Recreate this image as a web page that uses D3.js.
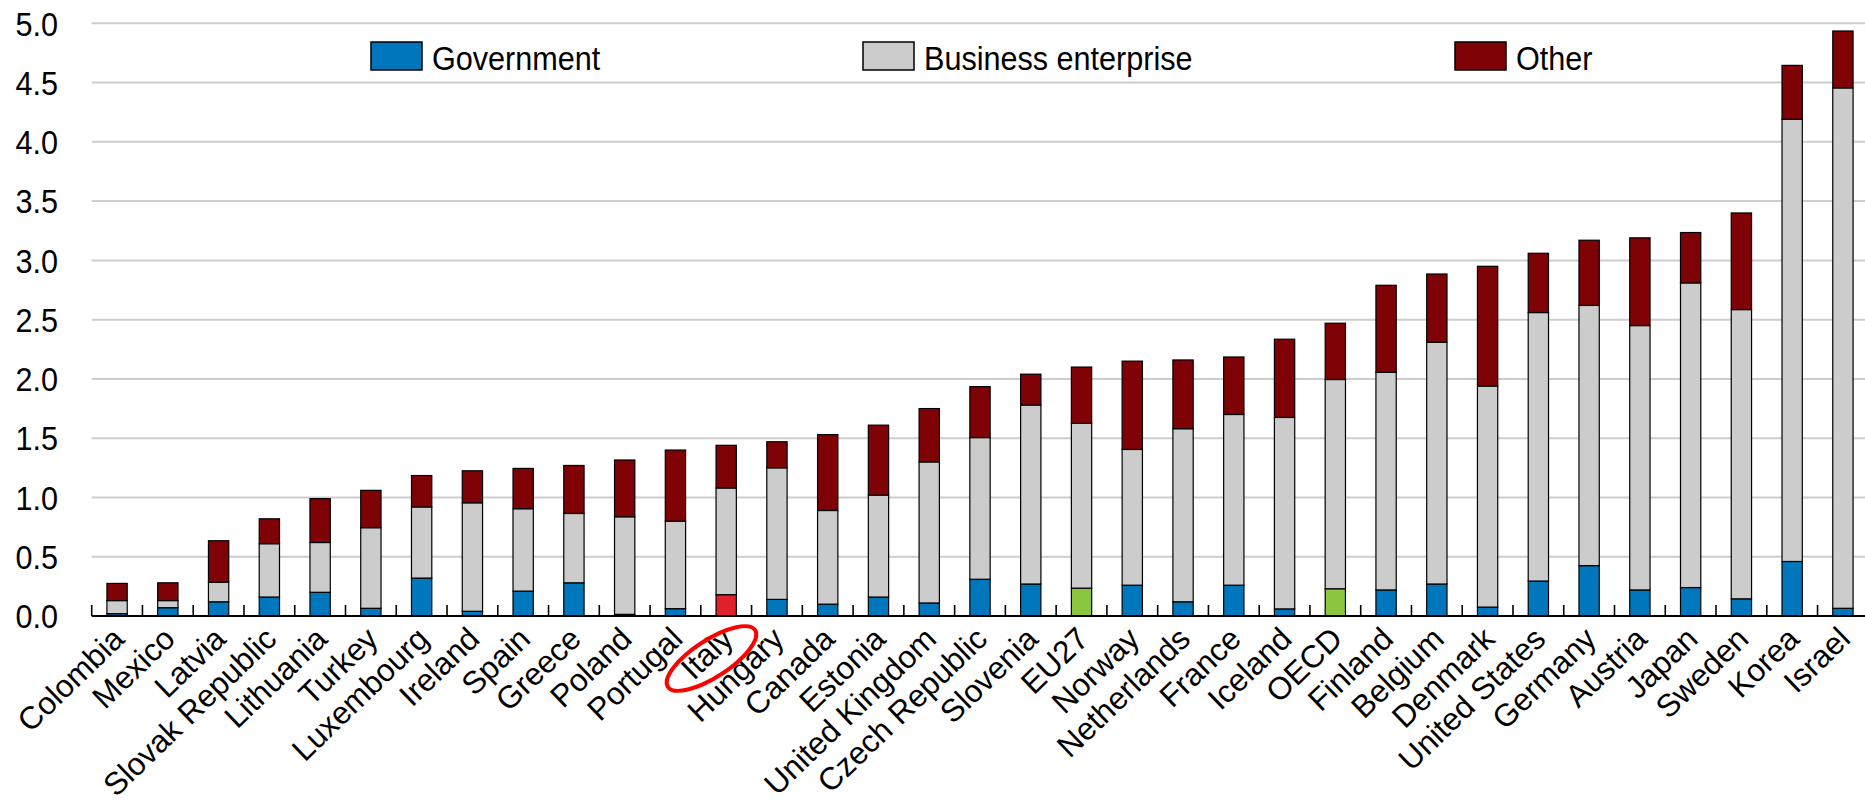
<!DOCTYPE html>
<html>
<head>
<meta charset="utf-8">
<script src="https://cdn.jsdelivr.net/npm/d3@7"></script>
<style>
  body { margin: 0; background: #fff; }
  text { font-family: "Liberation Sans", Arial, sans-serif; fill: #000; }
</style>
</head>
<body>
<div id="chart"></div>
<script>
// Data (% of GDP, stacked)
const countries = ["Colombia", "Mexico", "Latvia", "Slovak Republic", "Lithuania", "Turkey",
  "Luxembourg", "Ireland", "Spain", "Greece", "Poland", "Portugal", "Italy", "Hungary",
  "Canada", "Estonia", "United Kingdom", "Czech Republic", "Slovenia", "EU27", "Norway",
  "Netherlands", "France", "Iceland", "OECD", "Finland", "Belgium", "Denmark",
  "United States", "Germany", "Austria", "Japan", "Sweden", "Korea", "Israel"];

const government = [0.02, 0.07, 0.12, 0.16, 0.20, 0.065, 0.32, 0.04, 0.21, 0.28, 0.014, 0.062,
  0.18, 0.14, 0.10, 0.16, 0.11, 0.31, 0.27, 0.235, 0.26, 0.12, 0.26, 0.06, 0.23, 0.22, 0.27,
  0.075, 0.295, 0.425, 0.22, 0.24, 0.145, 0.46, 0.065];

const business = [0.11, 0.06, 0.165, 0.45, 0.42, 0.68, 0.60, 0.915, 0.695, 0.585, 0.823, 0.738,
  0.90, 1.11, 0.79, 0.86, 1.19, 1.195, 1.51, 1.39, 1.145, 1.46, 1.44, 1.615, 1.765, 1.835, 2.04,
  1.865, 2.265, 2.195, 2.23, 2.57, 2.44, 3.73, 4.39];

const other = [0.145, 0.15, 0.35, 0.21, 0.37, 0.315, 0.265, 0.27, 0.34, 0.405, 0.479, 0.60,
  0.36, 0.22, 0.64, 0.59, 0.45, 0.43, 0.26, 0.475, 0.745, 0.58, 0.485, 0.66, 0.475, 0.735, 0.575,
  1.01, 0.50, 0.55, 0.74, 0.425, 0.815, 0.455, 0.48];

const yTicks = [0, 0.5, 1, 1.5, 2, 2.5, 3, 3.5, 4, 4.5, 5];
const seriesNames = ["Government", "Business enterprise", "Other"];
const keys = ["gov", "bus", "oth"];

const data = countries.map((c, i) => ({country: c, gov: government[i], bus: business[i], oth: other[i]}));

// Layout
const W = 1865, H = 805;
const margin = {top: 23.3, left: 91.7, right: -3.3},
    plotBottom = 616;

const svg = d3.select("#chart")
  .append("svg")
    .attr("width", W)
    .attr("height", H);

const x = d3.scaleBand()
  .domain(countries)
  .range([margin.left, W - margin.right])
  .paddingInner(0.6)
  .paddingOuter(0.3);

const y = d3.scaleLinear()
  .domain([0, 5])
  .range([plotBottom, margin.top]);

const color = {gov: "#0077BD", bus: "#CCCCCC", oth: "#7F0306"};
const govColor = function(country) {
  if (country === "Italy") return "#E0202B";
  if (country === "EU27" || country === "OECD") return "#8CC63F";
  return color.gov;
}

// gridlines
svg.append("g")
  .selectAll("line")
  .data(yTicks.filter(d => d > 0))
  .join("line")
    .attr("x1", margin.left)
    .attr("x2", W)
    .attr("y1", d => y(d))
    .attr("y2", d => y(d))
    .attr("stroke", "#CDCDCD")
    .attr("stroke-width", 2);

// y labels (slightly condensed, like the original)
svg.append("g")
  .selectAll("text")
  .data(yTicks)
  .join("text")
    .attr("transform", d => `translate(58,${y(d)}) scale(0.9,1)`)
    .attr("dy", "0.36em")
    .attr("text-anchor", "end")
    .style("font-size", "34px")
    .text(d => d3.format(".1f")(d));

// stacked bars
const stacked = d3.stack().keys(keys)(data);

svg.append("g")
  .selectAll("g")
  .data(stacked)
  .join("g")
  .selectAll("rect")
  .data(s => s.map(d => Object.assign(d, {key: s.key})))
  .join("rect")
    .attr("x", d => x(d.data.country))
    .attr("width", x.bandwidth())
    .attr("y", d => y(d[1]))
    .attr("height", d => y(d[0]) - y(d[1]))
    .attr("fill", d => d.key === "gov" ? govColor(d.data.country) : color[d.key])
    .attr("stroke", "#000")
    .attr("stroke-width", 1.2);

// x axis line and ticks (ticks point up, at band boundaries)
const step = x.step();
const tickPos = countries.map((c, i) => x.range()[0] + i * step);
svg.append("g")
  .selectAll("line")
  .data(tickPos)
  .join("line")
    .attr("x1", d => d)
    .attr("x2", d => d)
    .attr("y1", plotBottom)
    .attr("y2", plotBottom - 11)
    .attr("stroke", "#000")
    .attr("stroke-width", 1.6);

svg.append("line")
  .attr("x1", margin.left)
  .attr("x2", W)
  .attr("y1", plotBottom)
  .attr("y2", plotBottom)
  .attr("stroke", "#000")
  .attr("stroke-width", 2);

// x labels, rotated
svg.append("g")
  .selectAll("text")
  .data(countries)
  .join("text")
    .attr("transform", d => `translate(${x(d) + x.bandwidth() / 2 + 9},${plotBottom + 25}) rotate(-44)`)
    .attr("text-anchor", "end")
    .style("font-size", "31.5px")
    .text(d => d);

// red ellipse around Italy
const italyX = x("Italy") + x.bandwidth() / 2;
svg.append("ellipse")
  .attr("transform", `translate(${italyX - 14.7},${plotBottom + 42.5}) rotate(-33)`)
  .attr("rx", 52)
  .attr("ry", 18.5)
  .attr("fill", "none")
  .attr("stroke", "#FF0000")
  .attr("stroke-width", 4);

// legend
const legendX = [371, 863, 1455];
const legend = svg.append("g")
  .selectAll("g")
  .data(seriesNames)
  .join("g")
    .attr("transform", (d, i) => `translate(${legendX[i]},42)`);

legend.append("rect")
  .attr("width", 51)
  .attr("height", 28)
  .attr("fill", (d, i) => color[keys[i]])
  .attr("stroke", "#000")
  .attr("stroke-width", 1.5);

legend.append("text")
  .attr("transform", "translate(61,27.5) scale(0.9,1)")
  .style("font-size", "34px")
  .text(d => d);
</script>
</body>
</html>
